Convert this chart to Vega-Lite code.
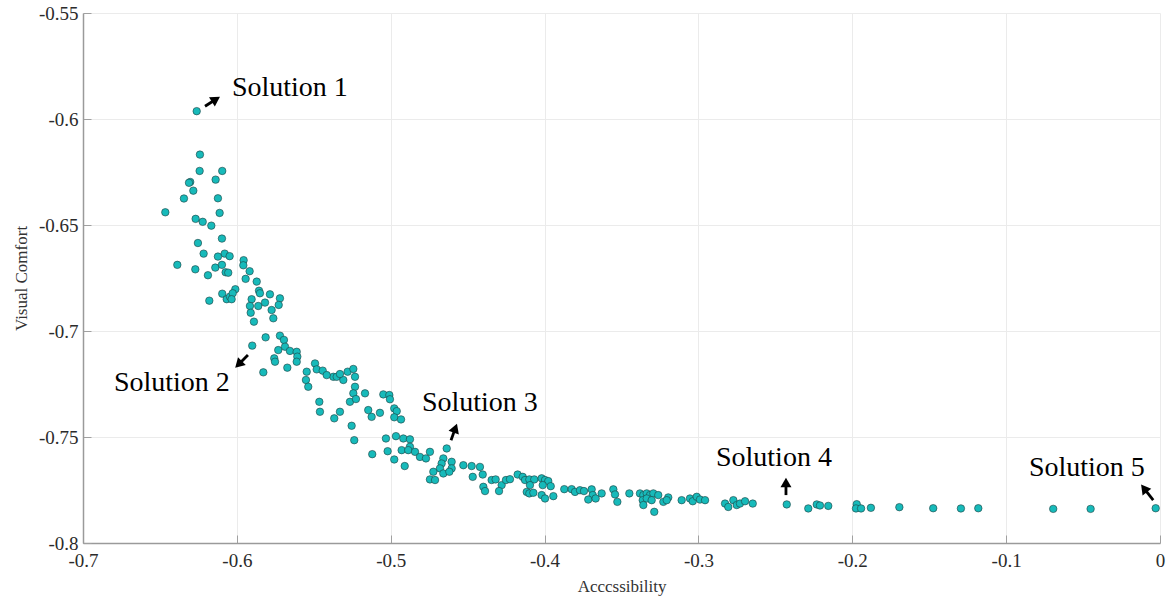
{
  "$schema": "https://vega.github.io/schema/vega-lite/v6.json",
  "width": 1077,
  "height": 530,
  "autosize": "none",
  "padding": {"left": 83, "top": 13, "right": 11, "bottom": 55},
  "background": "white",
  "config": {
    "view": {"stroke": null},
    "font": "Liberation Serif",
    "axis": {
      "labelFont": "Liberation Serif",
      "titleFont": "Liberation Serif",
      "labelFontSize": 19,
      "titleFontSize": 17,
      "titleFontWeight": "normal",
      "labelColor": "#2b2b2b",
      "titleColor": "#333333",
      "gridColor": "#ebebeb",
      "gridWidth": 1,
      "domainColor": "#9a9a9a",
      "domainWidth": 1.5,
      "tickColor": "#a0a0a0",
      "tickSize": -8,
      "labelExpr": "toString(datum.value)"
    }
  },
  "datasets": {
    "pts": [
      {"a":-0.6261,"v":-0.5963},{"a":-0.6240,"v":-0.6168},{"a":-0.6242,"v":-0.6245},{"a":-0.6095,"v":-0.6245},
      {"a":-0.6138,"v":-0.6286},{"a":-0.6303,"v":-0.6297},{"a":-0.6311,"v":-0.6301},{"a":-0.6283,"v":-0.6338},
      {"a":-0.6344,"v":-0.6375},{"a":-0.6123,"v":-0.6374},{"a":-0.6465,"v":-0.6440},{"a":-0.6112,"v":-0.6443},
      {"a":-0.6268,"v":-0.6471},{"a":-0.6222,"v":-0.6485},{"a":-0.6166,"v":-0.6503},{"a":-0.6097,"v":-0.6564},
      {"a":-0.6253,"v":-0.6585},{"a":-0.6216,"v":-0.6635},{"a":-0.6079,"v":-0.6635},{"a":-0.6123,"v":-0.6649},
      {"a":-0.6047,"v":-0.6647},{"a":-0.6387,"v":-0.6688},{"a":-0.6270,"v":-0.6709},{"a":-0.6140,"v":-0.6701},
      {"a":-0.6097,"v":-0.6688},{"a":-0.6073,"v":-0.6723},{"a":-0.6056,"v":-0.6725},{"a":-0.6188,"v":-0.6737},
      {"a":-0.5956,"v":-0.6666},{"a":-0.5958,"v":-0.6690},{"a":-0.5917,"v":-0.6718},{"a":-0.5943,"v":-0.6754},
      {"a":-0.5871,"v":-0.6767},{"a":-0.6010,"v":-0.6803},{"a":-0.6179,"v":-0.6857},{"a":-0.6095,"v":-0.6824},
      {"a":-0.6066,"v":-0.6850},{"a":-0.6045,"v":-0.6838},{"a":-0.6027,"v":-0.6822},{"a":-0.6034,"v":-0.6850},
      {"a":-0.5904,"v":-0.6850},{"a":-0.5915,"v":-0.6882},{"a":-0.5910,"v":-0.6914},{"a":-0.5889,"v":-0.6956},
      {"a":-0.5856,"v":-0.6810},{"a":-0.5850,"v":-0.6822},{"a":-0.5861,"v":-0.6882},{"a":-0.5817,"v":-0.6866},
      {"a":-0.5785,"v":-0.6827},{"a":-0.5720,"v":-0.6846},{"a":-0.5728,"v":-0.6877},{"a":-0.5774,"v":-0.6901},
      {"a":-0.5763,"v":-0.6940},{"a":-0.5813,"v":-0.7030},{"a":-0.5900,"v":-0.7069},{"a":-0.5828,"v":-0.7195},
      {"a":-0.5720,"v":-0.7022},{"a":-0.5694,"v":-0.7042},{"a":-0.5731,"v":-0.7090},{"a":-0.5757,"v":-0.7129},
      {"a":-0.5752,"v":-0.7145},{"a":-0.5687,"v":-0.7074},{"a":-0.5655,"v":-0.7094},{"a":-0.5611,"v":-0.7098},
      {"a":-0.5607,"v":-0.7121},{"a":-0.5611,"v":-0.7145},{"a":-0.5672,"v":-0.7173},{"a":-0.5546,"v":-0.7192},
      {"a":-0.5551,"v":-0.7231},{"a":-0.5536,"v":-0.7263},{"a":-0.5492,"v":-0.7153},{"a":-0.5481,"v":-0.7181},
      {"a":-0.5442,"v":-0.7187},{"a":-0.5373,"v":-0.7216},{"a":-0.5351,"v":-0.7216},{"a":-0.5308,"v":-0.7231},
      {"a":-0.5330,"v":-0.7203},{"a":-0.5280,"v":-0.7192},{"a":-0.5243,"v":-0.7179},{"a":-0.5232,"v":-0.7216},
      {"a":-0.5232,"v":-0.7263},{"a":-0.5243,"v":-0.7294},{"a":-0.5416,"v":-0.7208},{"a":-0.5464,"v":-0.7334},
      {"a":-0.5460,"v":-0.7381},{"a":-0.5367,"v":-0.7412},{"a":-0.5330,"v":-0.7381},{"a":-0.5254,"v":-0.7447},
      {"a":-0.5237,"v":-0.7515},{"a":-0.5265,"v":-0.7334},{"a":-0.5226,"v":-0.7321},{"a":-0.5167,"v":-0.7294},
      {"a":-0.5146,"v":-0.7373},{"a":-0.5124,"v":-0.7405},{"a":-0.5070,"v":-0.7386},{"a":-0.5048,"v":-0.7299},
      {"a":-0.5009,"v":-0.7302},{"a":-0.5005,"v":-0.7322},{"a":-0.4977,"v":-0.7365},{"a":-0.4961,"v":-0.7378},
      {"a":-0.4977,"v":-0.7407},{"a":-0.4933,"v":-0.7417},{"a":-0.5120,"v":-0.7581},{"a":-0.5031,"v":-0.7507},
      {"a":-0.5020,"v":-0.7567},{"a":-0.4977,"v":-0.7606},{"a":-0.4966,"v":-0.7496},{"a":-0.4918,"v":-0.7507},
      {"a":-0.4929,"v":-0.7562},{"a":-0.4875,"v":-0.7511},{"a":-0.4875,"v":-0.7546},{"a":-0.4886,"v":-0.7562},
      {"a":-0.4842,"v":-0.7570},{"a":-0.4810,"v":-0.7594},{"a":-0.4771,"v":-0.7601},{"a":-0.4745,"v":-0.7570},
      {"a":-0.4909,"v":-0.7637},{"a":-0.4636,"v":-0.7554},{"a":-0.4658,"v":-0.7601},{"a":-0.4669,"v":-0.7625},
      {"a":-0.4680,"v":-0.7648},{"a":-0.4658,"v":-0.7672},{"a":-0.4604,"v":-0.7617},{"a":-0.4604,"v":-0.7648},
      {"a":-0.4619,"v":-0.7664},{"a":-0.4723,"v":-0.7664},{"a":-0.4745,"v":-0.7700},{"a":-0.4712,"v":-0.7703},
      {"a":-0.4528,"v":-0.7633},{"a":-0.4474,"v":-0.7637},{"a":-0.4467,"v":-0.7688},{"a":-0.4420,"v":-0.7641},
      {"a":-0.4402,"v":-0.7677},{"a":-0.4398,"v":-0.7735},{"a":-0.4387,"v":-0.7755},{"a":-0.4344,"v":-0.7703},
      {"a":-0.4318,"v":-0.7700},{"a":-0.4279,"v":-0.7727},{"a":-0.4296,"v":-0.7755},{"a":-0.4251,"v":-0.7703},
      {"a":-0.4225,"v":-0.7699},{"a":-0.4175,"v":-0.7677},{"a":-0.4142,"v":-0.7688},{"a":-0.4127,"v":-0.7703},
      {"a":-0.4099,"v":-0.7700},{"a":-0.4067,"v":-0.7700},{"a":-0.4095,"v":-0.7727},{"a":-0.4116,"v":-0.7759},
      {"a":-0.4099,"v":-0.7766},{"a":-0.4073,"v":-0.7763},{"a":-0.4019,"v":-0.7695},{"a":-0.3997,"v":-0.7703},
      {"a":-0.3976,"v":-0.7708},{"a":-0.4012,"v":-0.7727},{"a":-0.3960,"v":-0.7732},{"a":-0.4019,"v":-0.7774},
      {"a":-0.3997,"v":-0.7790},{"a":-0.3943,"v":-0.7779},{"a":-0.3872,"v":-0.7746},{"a":-0.3824,"v":-0.7746},
      {"a":-0.3802,"v":-0.7759},{"a":-0.3770,"v":-0.7751},{"a":-0.3744,"v":-0.7755},{"a":-0.3694,"v":-0.7747},
      {"a":-0.3687,"v":-0.7774},{"a":-0.3716,"v":-0.7795},{"a":-0.3668,"v":-0.7790},{"a":-0.3629,"v":-0.7766},
      {"a":-0.3553,"v":-0.7747},{"a":-0.3542,"v":-0.7771},{"a":-0.3527,"v":-0.7806},{"a":-0.3449,"v":-0.7766},
      {"a":-0.3380,"v":-0.7766},{"a":-0.3358,"v":-0.7774},{"a":-0.3336,"v":-0.7766},{"a":-0.3315,"v":-0.7774},
      {"a":-0.3293,"v":-0.7766},{"a":-0.3261,"v":-0.7774},{"a":-0.3362,"v":-0.7798},{"a":-0.3336,"v":-0.7790},
      {"a":-0.3304,"v":-0.7798},{"a":-0.3358,"v":-0.7821},{"a":-0.3287,"v":-0.7853},{"a":-0.3228,"v":-0.7806},
      {"a":-0.3196,"v":-0.7785},{"a":-0.3206,"v":-0.7798},{"a":-0.3109,"v":-0.7798},{"a":-0.3055,"v":-0.7790},
      {"a":-0.3037,"v":-0.7803},{"a":-0.3011,"v":-0.7782},{"a":-0.2990,"v":-0.7795},{"a":-0.2957,"v":-0.7798},
      {"a":-0.2827,"v":-0.7814},{"a":-0.2806,"v":-0.7830},{"a":-0.2773,"v":-0.7798},{"a":-0.2751,"v":-0.7821},
      {"a":-0.2730,"v":-0.7814},{"a":-0.2697,"v":-0.7803},{"a":-0.2647,"v":-0.7814},{"a":-0.2426,"v":-0.7818},
      {"a":-0.2286,"v":-0.7837},{"a":-0.2231,"v":-0.7818},{"a":-0.2210,"v":-0.7823},{"a":-0.2156,"v":-0.7825},
      {"a":-0.1971,"v":-0.7817},{"a":-0.1976,"v":-0.7837},{"a":-0.1943,"v":-0.7837},{"a":-0.1879,"v":-0.7834},
      {"a":-0.1694,"v":-0.7831},{"a":-0.1474,"v":-0.7836},{"a":-0.1294,"v":-0.7837},{"a":-0.1181,"v":-0.7836},
      {"a":-0.0694,"v":-0.7839},{"a":-0.0451,"v":-0.7839},{"a":-0.0028,"v":-0.7836}
    ],
    "arrows": [
      {"label":"Solution 1","a":-0.6207,"v":-0.5940,"a2":-0.6136,"v2":-0.5907,"dir":58},
      {"label":"Solution 2","a":-0.5928,"v":-0.7113,"a2":-0.5989,"v2":-0.7158,"dir":225},
      {"label":"Solution 3","a":-0.4608,"v":-0.7515,"a2":-0.4580,"v2":-0.7458,"dir":20},
      {"label":"Solution 4","a":-0.2431,"v":-0.7774,"a2":-0.2431,"v2":-0.7715,"dir":0},
      {"label":"Solution 5","a":-0.0044,"v":-0.7798,"a2":-0.0104,"v2":-0.7742,"dir":322}
    ],
    "labels": [
      {"label":"Solution 1","a":-0.6032,"v":-0.5853},
      {"label":"Solution 2","a":-0.6799,"v":-0.7246},
      {"label":"Solution 3","a":-0.4797,"v":-0.7340},
      {"label":"Solution 4","a":-0.2886,"v":-0.7600},
      {"label":"Solution 5","a":-0.0852,"v":-0.7644}
    ]
  },
  "layer": [
    {
      "data": {"name": "pts"},
      "mark": {"type": "point", "shape": "circle", "filled": true, "size": 56, "fill": "#17baba", "stroke": "#1f3f3f", "strokeWidth": 0.6, "opacity": 1},
      "encoding": {
        "x": {"field": "a", "type": "quantitative", "scale": {"domain": [-0.7, 0], "nice": false, "zero": false},
              "axis": {"title": "Acccssibility", "values": [-0.7,-0.6,-0.5,-0.4,-0.3,-0.2,-0.1,0], "labelPadding": 16, "titlePadding": 8, "labelFlush": false}},
        "y": {"field": "v", "type": "quantitative", "scale": {"domain": [-0.8, -0.55], "nice": false, "zero": false},
              "axis": {"title": "Visual Comfort", "values": [-0.8,-0.75,-0.7,-0.65,-0.6,-0.55], "labelPadding": 13, "titlePadding": 8, "labelFlush": false}}
      }
    },
    {
      "data": {"name": "arrows"},
      "mark": {"type": "rule", "color": "black", "strokeWidth": 2.8},
      "encoding": {
        "x": {"field": "a", "type": "quantitative"},
        "y": {"field": "v", "type": "quantitative"},
        "x2": {"field": "a2"},
        "y2": {"field": "v2"}
      }
    },
    {
      "data": {"name": "arrows"},
      "mark": {"type": "point", "shape": "triangle-up", "filled": true, "color": "black", "size": 120, "opacity": 1},
      "encoding": {
        "x": {"field": "a2", "type": "quantitative"},
        "y": {"field": "v2", "type": "quantitative"},
        "angle": {"field": "dir", "type": "quantitative", "scale": {"domain": [0, 360], "range": [0, 360]}}
      }
    },
    {
      "data": {"name": "labels"},
      "mark": {"type": "text", "align": "left", "baseline": "middle", "font": "Liberation Serif", "fontSize": 28, "color": "black"},
      "encoding": {
        "x": {"field": "a", "type": "quantitative"},
        "y": {"field": "v", "type": "quantitative"},
        "text": {"field": "label"}
      }
    }
  ]
}
